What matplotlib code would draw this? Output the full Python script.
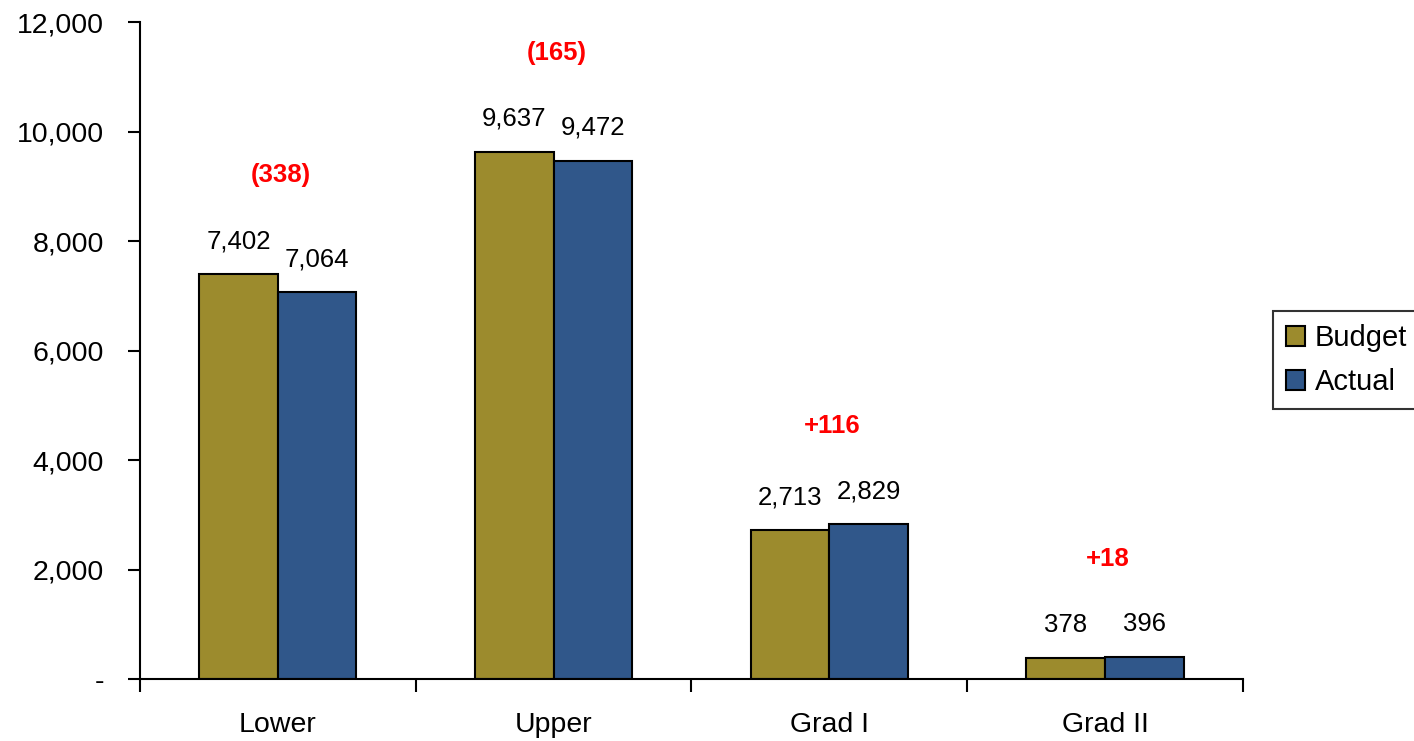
import matplotlib.pyplot as plt
import numpy as np
from matplotlib.ticker import FuncFormatter, FixedLocator

categories = ['Lower', 'Upper', 'Grad I', 'Grad II']
budget = [7402, 9637, 2713, 378]
actual = [7064, 9472, 2829, 396]
diff_labels = ['(338)', '(165)', '+116', '+18']

BUDGET_COLOR = '#9C8B2D'
ACTUAL_COLOR = '#30578A'

plt.rcParams['font.family'] = ['Liberation Sans', 'DejaVu Sans']

fig = plt.figure(figsize=(14.14, 7.41), dpi=100)
ax = fig.add_axes([0.099, 0.0837, 0.78, 0.8863])

x = np.arange(len(categories))
w = 0.285
b1 = ax.bar(x - w / 2, budget, w, color=BUDGET_COLOR, edgecolor='black', linewidth=1.5, label='Budget')
b2 = ax.bar(x + w / 2, actual, w, color=ACTUAL_COLOR, edgecolor='black', linewidth=1.5, label='Actual')

# value labels above bars
for xi, v in zip(x - w / 2, budget):
    ax.annotate(f'{v:,}', (xi, v), xytext=(0, 15), textcoords='offset points',
                ha='center', va='bottom', fontsize=18.5)
for xi, v in zip(x + w / 2, actual):
    ax.annotate(f'{v:,}', (xi, v), xytext=(0, 15), textcoords='offset points',
                ha='center', va='bottom', fontsize=18.5)

# variance labels in red
for xi, b, a, lab in zip(x, budget, actual, diff_labels):
    ax.annotate(lab, (xi, max(b, a)), xytext=(2, 71), textcoords='offset points',
                ha='center', va='center', fontsize=18.5, color='#FF0000', fontweight='bold')

ax.set_xlim(-0.5, len(categories) - 0.5)
ax.set_ylim(0, 12000)
ax.set_yticks(np.arange(0, 12001, 2000))
ax.yaxis.set_major_formatter(FuncFormatter(lambda v, p: '-' if v == 0 else f'{int(v):,}'))

ax.set_xticks(x)
ax.set_xticklabels(categories)
ax.xaxis.set_minor_locator(FixedLocator(np.arange(-0.5, len(categories), 1.0)))
ax.tick_params(axis='x', which='major', length=0, labelsize=20.5, pad=24)
ax.tick_params(axis='x', which='minor', length=9, width=1.5, direction='out')
ax.tick_params(axis='y', length=9, width=1.5, direction='out', labelsize=20.5, pad=17)

for s in ['top', 'right']:
    ax.spines[s].set_visible(False)
for s in ['left', 'bottom']:
    ax.spines[s].set_linewidth(1.5)

leg = fig.legend(handles=[b1, b2], loc='center left', bbox_to_anchor=(0.9, 0.514),
                 bbox_transform=fig.transFigure, fontsize=21, frameon=True, fancybox=False,
                 edgecolor='black', handlelength=0.65, handleheight=0.65, handletextpad=0.35,
                 borderpad=0.45, labelspacing=0.55, borderaxespad=0)
leg.get_frame().set_linewidth(1.5)

fig.savefig('out.png', dpi=100)
